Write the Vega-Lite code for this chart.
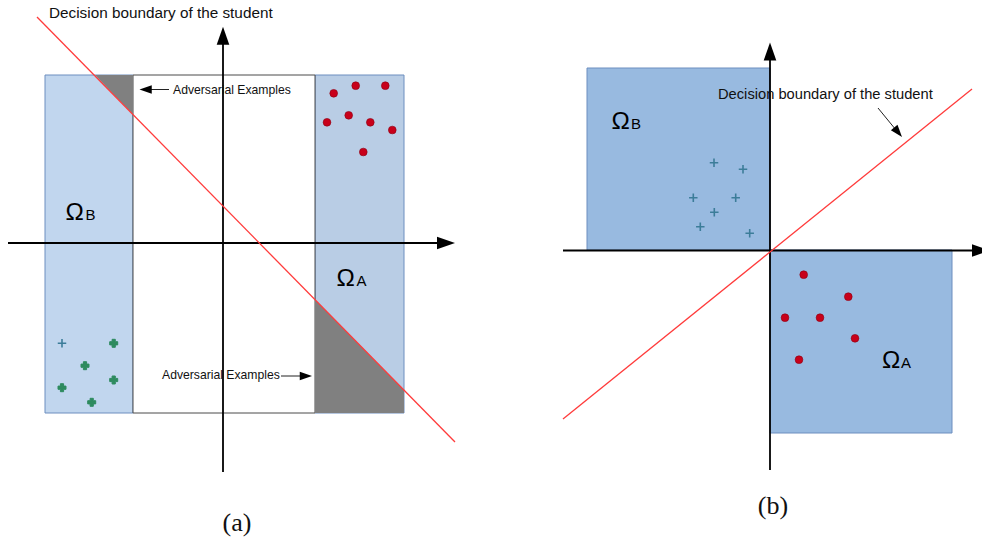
{
  "$schema": "https://vega.github.io/schema/vega-lite/v6.json",
  "width": 982,
  "height": 540,
  "autosize": {"type": "none"},
  "padding": 0,
  "background": "white",
  "config": {"view": {"stroke": null}},
  "datasets": {
    "regions": [
      {"region": "aB", "x": 45, "x2": 133, "y": 127, "y2": 465},
      {"region": "aA", "x": 315, "x2": 404, "y": 127, "y2": 465},
      {"region": "bB", "x": 587, "x2": 770, "y": 290, "y2": 472},
      {"region": "bA", "x": 770, "x2": 952, "y": 107, "y2": 290}
    ],
    "middle": [
      {"x": 133, "x2": 315, "y": 127, "y2": 465}
    ],
    "adversarial": [
      {"g": "top", "x": 95, "y": 465, "y2": 465},
      {"g": "top", "x": 133, "y": 465, "y2": 425.4},
      {"g": "bottom", "x": 315, "y": 127, "y2": 240.4},
      {"g": "bottom", "x": 404, "y": 127, "y2": 149.9}
    ],
    "axes": [
      {"x": 8, "y": 297, "x2": 438, "y2": 297},
      {"x": 223, "y": 68, "x2": 223, "y2": 496},
      {"x": 563, "y": 289.5, "x2": 974, "y2": 289.5},
      {"x": 770, "y": 70, "x2": 770, "y2": 481}
    ],
    "boundaries": [
      {"x": 37, "y": 523, "x2": 455, "y2": 98},
      {"x": 563, "y": 121, "x2": 972, "y2": 451}
    ],
    "noteLines": [
      {"x": 169, "y": 450.5, "x2": 150, "y2": 450.5},
      {"x": 281, "y": 164, "x2": 302, "y2": 164},
      {"x": 878, "y": 432, "x2": 896, "y2": 410}
    ],
    "axisHeads": [
      {"dir": "up", "x": 223, "y": 513.3},
      {"dir": "right", "x": 455, "y": 297},
      {"dir": "up", "x": 770, "y": 497.5},
      {"dir": "right", "x": 990, "y": 289.5}
    ],
    "noteHeads": [
      {"dir": "left", "x": 139.5, "y": 450.5},
      {"dir": "right", "x": 312, "y": 164},
      {"dir": "dr", "x": 902, "y": 403}
    ],
    "classA": [
      {"x": 333.7, "y": 446.7}, {"x": 355.7, "y": 454.3}, {"x": 385.3, "y": 454.3},
      {"x": 327, "y": 417.7}, {"x": 348.7, "y": 424.7}, {"x": 370.3, "y": 417.7},
      {"x": 392.3, "y": 410}, {"x": 363.3, "y": 388},
      {"x": 803.7, "y": 265.3}, {"x": 848.3, "y": 243.3}, {"x": 785, "y": 222.3},
      {"x": 820, "y": 222.3}, {"x": 855, "y": 201.7}, {"x": 799, "y": 180.3}
    ],
    "classBgreen": [
      {"x": 113.7, "y": 196.7}, {"x": 85, "y": 174.3}, {"x": 113.7, "y": 160},
      {"x": 62, "y": 152.3}, {"x": 91.7, "y": 137.7}
    ],
    "classBplus": [
      {"x": 62, "y": 196.7},
      {"x": 714, "y": 377.3}, {"x": 743, "y": 370.7}, {"x": 693.3, "y": 342.3},
      {"x": 735.7, "y": 342.3}, {"x": 714.3, "y": 327.7}, {"x": 700.3, "y": 313.3},
      {"x": 749.7, "y": 306.7}
    ],
    "texts": [
      {"role": "omega", "label": "Ω", "x": 65.5, "y": 320},
      {"role": "omega", "label": "Ω", "x": 336.5, "y": 254},
      {"role": "omega", "label": "Ω", "x": 611.5, "y": 411},
      {"role": "omega", "label": "Ω", "x": 882, "y": 172.3},
      {"role": "sub", "label": "B", "x": 85.5, "y": 320},
      {"role": "sub", "label": "A", "x": 356.5, "y": 254},
      {"role": "sub", "label": "B", "x": 631, "y": 411},
      {"role": "sub", "label": "A", "x": 901, "y": 172.3},
      {"role": "titleA", "label": "Decision boundary of the student", "x": 49, "y": 522.5},
      {"role": "titleB", "label": "Decision boundary of the student", "x": 718, "y": 441},
      {"role": "note", "label": "Adversarial Examples", "x": 173, "y": 445.7},
      {"role": "note", "label": "Adversarial Examples", "x": 162, "y": 160.7},
      {"role": "cap", "label": "(a)", "x": 237, "y": 17},
      {"role": "cap", "label": "(b)", "x": 773, "y": 34.3}
    ]
  },
  "encoding": {
    "x": {"field": "x", "type": "quantitative", "scale": {"domain": [0, 982], "nice": false, "zero": false}, "axis": null},
    "y": {"field": "y", "type": "quantitative", "scale": {"domain": [0, 540], "nice": false, "zero": false}, "axis": null}
  },
  "layer": [
    {
      "data": {"name": "regions"},
      "mark": {"type": "rect", "stroke": "#6c8ebf", "strokeWidth": 1},
      "encoding": {
        "x2": {"field": "x2"},
        "y2": {"field": "y2"},
        "color": {
          "field": "region", "type": "nominal",
          "scale": {"domain": ["aB", "aA", "bB", "bA"], "range": ["#c1d6ee", "#b9cde5", "#98bae0", "#98bae0"]},
          "legend": null
        }
      }
    },
    {
      "data": {"name": "middle"},
      "mark": {"type": "rect", "fill": "#ffffff", "stroke": "#4a4a4a", "strokeWidth": 1},
      "encoding": {"x2": {"field": "x2"}, "y2": {"field": "y2"}}
    },
    {
      "data": {"name": "adversarial"},
      "mark": {"type": "area", "color": "#808080", "opacity": 1},
      "encoding": {"y2": {"field": "y2"}, "detail": {"field": "g"}}
    },
    {
      "data": {"name": "axes"},
      "mark": {"type": "rule", "color": "#000000", "strokeWidth": 1.8},
      "encoding": {"x2": {"field": "x2"}, "y2": {"field": "y2"}}
    },
    {
      "data": {"name": "boundaries"},
      "mark": {"type": "rule", "color": "#ff3b3b", "strokeWidth": 1.3},
      "encoding": {"x2": {"field": "x2"}, "y2": {"field": "y2"}}
    },
    {
      "data": {"name": "noteLines"},
      "mark": {"type": "rule", "color": "#222222", "strokeWidth": 1},
      "encoding": {"x2": {"field": "x2"}, "y2": {"field": "y2"}}
    },
    {
      "data": {"name": "axisHeads"},
      "mark": {"type": "point", "filled": true, "fill": "#000000", "strokeWidth": 0, "size": 324, "opacity": 1},
      "encoding": {
        "shape": {
          "field": "dir", "type": "nominal",
          "scale": {"domain": ["up", "right", "left", "dr"], "range": ["M0,0L0.7,2L-0.7,2Z", "M0,0L-2,0.7L-2,-0.7Z", "M0,0L2,0.7L2,-0.7Z", "M0,0L-1.813,-1.094L-0.735,-1.986Z"]},
          "legend": null
        }
      }
    },
    {
      "data": {"name": "noteHeads"},
      "mark": {"type": "point", "filled": true, "fill": "#000000", "strokeWidth": 0, "size": 150, "opacity": 1},
      "encoding": {
        "shape": {
          "field": "dir", "type": "nominal",
          "scale": {"domain": ["up", "right", "left", "dr"], "range": ["M0,0L0.7,2L-0.7,2Z", "M0,0L-2,0.7L-2,-0.7Z", "M0,0L2,0.7L2,-0.7Z", "M0,0L-1.813,-1.094L-0.735,-1.986Z"]},
          "legend": null
        }
      }
    },
    {
      "data": {"name": "classA"},
      "mark": {"type": "circle", "size": 60, "fill": "#c8001a", "stroke": "#8c0012", "strokeWidth": 0.6, "opacity": 1}
    },
    {
      "data": {"name": "classBgreen"},
      "mark": {"type": "point", "shape": "cross", "size": 64, "filled": true, "fill": "#2e8b5f", "stroke": "#2e8b5f", "strokeWidth": 1, "opacity": 1}
    },
    {
      "data": {"name": "classBplus"},
      "mark": {"type": "point", "shape": "M-1,0L1,0M0,-1L0,1", "size": 72, "filled": false, "stroke": "#3c7d99", "strokeWidth": 1.6, "opacity": 1}
    },
    {
      "data": {"name": "texts"},
      "transform": [{"filter": "datum.role === 'omega'"}],
      "mark": {"type": "text", "font": "Liberation Sans", "fontSize": 24.5, "align": "left", "baseline": "alphabetic", "color": "#000000"},
      "encoding": {"text": {"field": "label"}}
    },
    {
      "data": {"name": "texts"},
      "transform": [{"filter": "datum.role === 'sub'"}],
      "mark": {"type": "text", "font": "Liberation Sans", "fontSize": 15, "align": "left", "baseline": "alphabetic", "color": "#000000"},
      "encoding": {"text": {"field": "label"}}
    },
    {
      "data": {"name": "texts"},
      "transform": [{"filter": "datum.role === 'titleA'"}],
      "mark": {"type": "text", "font": "Liberation Sans", "fontSize": 15.3, "align": "left", "baseline": "alphabetic", "color": "#111111"},
      "encoding": {"text": {"field": "label"}}
    },
    {
      "data": {"name": "texts"},
      "transform": [{"filter": "datum.role === 'titleB'"}],
      "mark": {"type": "text", "font": "Liberation Sans", "fontSize": 14.7, "align": "left", "baseline": "alphabetic", "color": "#111111"},
      "encoding": {"text": {"field": "label"}}
    },
    {
      "data": {"name": "texts"},
      "transform": [{"filter": "datum.role === 'note'"}],
      "mark": {"type": "text", "font": "Liberation Sans", "fontSize": 12.2, "align": "left", "baseline": "alphabetic", "color": "#111111"},
      "encoding": {"text": {"field": "label"}}
    },
    {
      "data": {"name": "texts"},
      "transform": [{"filter": "datum.role === 'cap'"}],
      "mark": {"type": "text", "font": "Liberation Serif", "fontSize": 26, "align": "center", "baseline": "middle", "color": "#111111"},
      "encoding": {"text": {"field": "label"}}
    }
  ]
}
